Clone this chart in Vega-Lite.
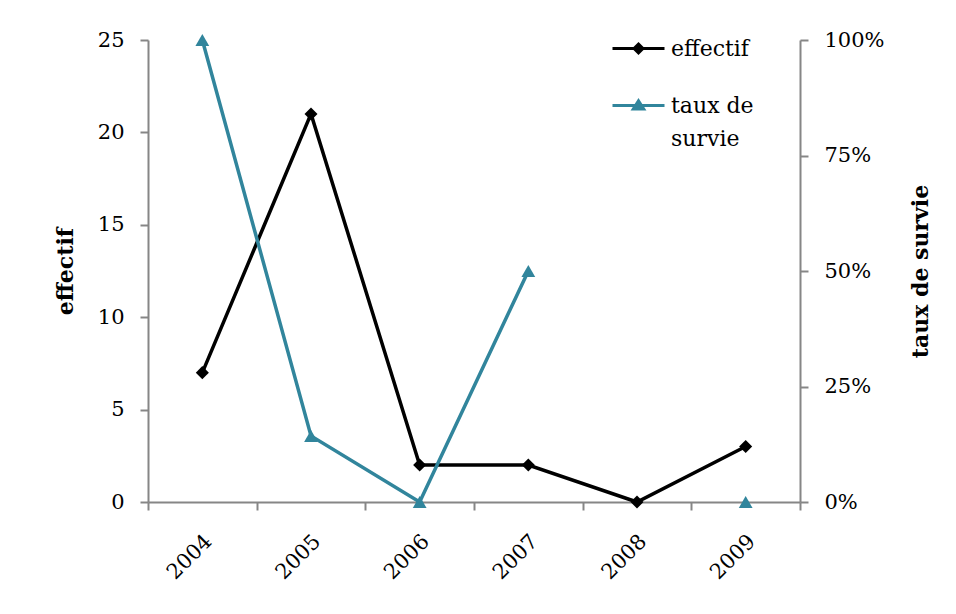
{
  "$schema": "https://vega.github.io/schema/vega-lite/v6.json",
  "width": 652,
  "height": 462,
  "autosize": "none",
  "padding": {"left": 148, "top": 40, "right": 156, "bottom": 112},
  "background": "white",
  "config": {
    "font": "DejaVu Serif",
    "view": {"stroke": null},
    "axis": {
      "labelFont": "DejaVu Serif",
      "titleFont": "DejaVu Serif",
      "labelColor": "#000000",
      "titleColor": "#000000",
      "labelFontSize": 21,
      "titleFontSize": 22,
      "titleFontWeight": "bold",
      "domainColor": "#868686",
      "tickColor": "#868686",
      "domainWidth": 2,
      "tickWidth": 2,
      "tickSize": 8,
      "grid": false
    },
    "legend": {"labelFont": "DejaVu Serif", "labelFontSize": 22, "labelColor": "#000000"}
  },
  "data": {
    "values": [
      {"annee": "2004", "effectif": 7, "taux": 1.0},
      {"annee": "2005", "effectif": 21, "taux": 0.1429},
      {"annee": "2006", "effectif": 2, "taux": 0},
      {"annee": "2007", "effectif": 2, "taux": 0.5},
      {"annee": "2008", "effectif": 0, "taux": null},
      {"annee": "2009", "effectif": 3, "taux": 0}
    ]
  },
  "encoding": {
    "x": {
      "field": "annee",
      "type": "ordinal",
      "scale": {"type": "band", "paddingInner": 0, "paddingOuter": 0},
      "axis": {
        "title": null,
        "tickBand": "extent",
        "labelAngle": -45,
        "labelAlign": "right",
        "labelBaseline": "middle",
        "labelPadding": 28,
        "labelOffset": 6
      }
    }
  },
  "layer": [
    {
      "encoding": {
        "y": {
          "field": "effectif",
          "type": "quantitative",
          "scale": {"domain": [0, 25], "nice": false},
          "axis": {"values": [0, 5, 10, 15, 20, 25], "title": "effectif", "labelPadding": 16, "titlePadding": 20}
        },
        "color": {
          "datum": "effectif",
          "type": "nominal",
          "scale": {"domain": ["effectif", "taux de survie"], "range": ["#000000", "#31859C"]},
          "legend": {
            "title": null,
            "orient": "none",
            "legendX": 463,
            "legendY": -19,
            "padding": 0,
            "symbolSize": 2704,
            "labelOffset": 5,
            "rowPadding": 18,
            "labelBaseline": "alphabetic",
            "labelExpr": "datum.label == 'taux de survie' ? ['taux de', 'survie'] : datum.label",
            "encode": {
              "symbols": {
                "update": {
                  "shape": {"signal": "datum.value === 'effectif' ? 'M-1,0H1M0,-0.17L0.17,0L0,0.17L-0.17,0Z' : 'M-1,0H1M0,-0.18L0.2,0.13L-0.2,0.13Z'"},
                  "fill": {"signal": "scale('color', datum.value)"},
                  "stroke": {"signal": "scale('color', datum.value)"},
                  "strokeWidth": {"value": 3},
                  "opacity": {"value": 1}
                }
              },
              "labels": {
                "update": {
                  "dy": {"value": 7},
                  "lineHeight": {"value": 33}
                }
              }
            }
          }
        }
      },
      "layer": [
        {"mark": {"type": "line", "strokeWidth": 3.5}},
        {"mark": {"type": "point", "shape": "diamond", "filled": true, "size": 170, "opacity": 1}}
      ]
    },
    {
      "encoding": {
        "y": {
          "field": "taux",
          "type": "quantitative",
          "scale": {"domain": [0, 1], "nice": false},
          "axis": {
            "orient": "right",
            "format": ".0%",
            "values": [0, 0.25, 0.5, 0.75, 1],
            "title": "taux de survie",
            "titleAngle": 270,
            "labelPadding": 16,
            "titlePadding": 48
          }
        },
        "color": {"datum": "taux de survie", "type": "nominal"}
      },
      "layer": [
        {"mark": {"type": "line", "strokeWidth": 3.5, "invalid": "break-paths-show-domains"}},
        {"mark": {"type": "point", "shape": "triangle-up", "filled": true, "size": 190, "opacity": 1}}
      ]
    }
  ],
  "resolve": {"scale": {"y": "independent"}}
}
